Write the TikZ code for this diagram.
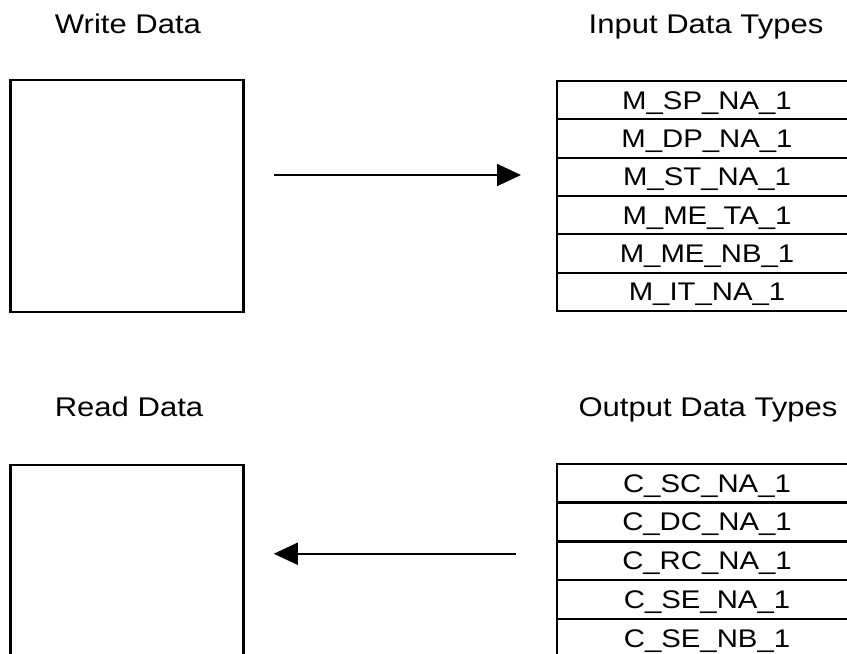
\documentclass[tikz,border=0pt]{standalone}
\usepackage{fontspec}
\setmainfont{Liberation Sans}[FakeStretch=1.15]
\usetikzlibrary{arrows.meta,positioning}

\begin{document}
\begin{tikzpicture}[x=1pt,y=-1pt,line width=2pt]
    \tikzstyle{title}=[text=black, font=\fontsize{27}{30}\selectfont, anchor=base]
    \tikzstyle{block}=[draw=black, rectangle, minimum width=233pt, minimum height=232pt, fill=none, line width=2.6pt]
    \tikzstyle{row}=[draw=black, rectangle, minimum width=300pt, minimum height=38.3pt, inner sep=0pt,
                     text height=18pt, text depth=0pt, font=\fontsize{25.5}{28}\selectfont]
    \tikzstyle{flow}=[-{Triangle[length=24pt,width=22pt]}, line width=1.8pt]

    \path[use as bounding box, fill=white] (0,0) rectangle (847,654);
    \clip (0,0) rectangle (847,654);

    % titles
    \node[title] (wtitle) at (128,33)  {Write Data};
    \node[title] (itypes) at (706,33)  {Input Data Types};
    \node[title] (rtitle) at (129,416) {Read Data};
    \node[title] (otypes) at (708,416) {Output Data Types};

    % blocks
    \node[block] (wbox) at (127,196) {};
    \node[block] (rbox) at (127,581) {};

    % input types
    \foreach \name [count=\i] in {M\_SP\_NA\_1,M\_DP\_NA\_1,M\_ST\_NA\_1,M\_ME\_TA\_1,M\_ME\_NB\_1,M\_IT\_NA\_1}
      \node[row] (in\i) at (707,{81+19.15+(\i-1)*38.3}) {\name};

    % output types
    \foreach \name [count=\i] in {C\_SC\_NA\_1,C\_DC\_NA\_1,C\_RC\_NA\_1,C\_SE\_NA\_1,C\_SE\_NB\_1}
      \node[row] (out\i) at (707,{464+19.15+(\i-1)*38.8}) {\name};

    % data flow
    \coordinate (wout) at ([xshift=29pt,yshift=21pt]wbox.east);
    \coordinate (oout) at ([xshift=-40pt,yshift=7pt]out3.west);
    \draw[flow, shorten >=35pt] (wout) -- (wout -| in1.west);
    \draw[flow, shorten >=29pt] (oout) -- (oout -| rbox.east);
\end{tikzpicture}
\end{document}
